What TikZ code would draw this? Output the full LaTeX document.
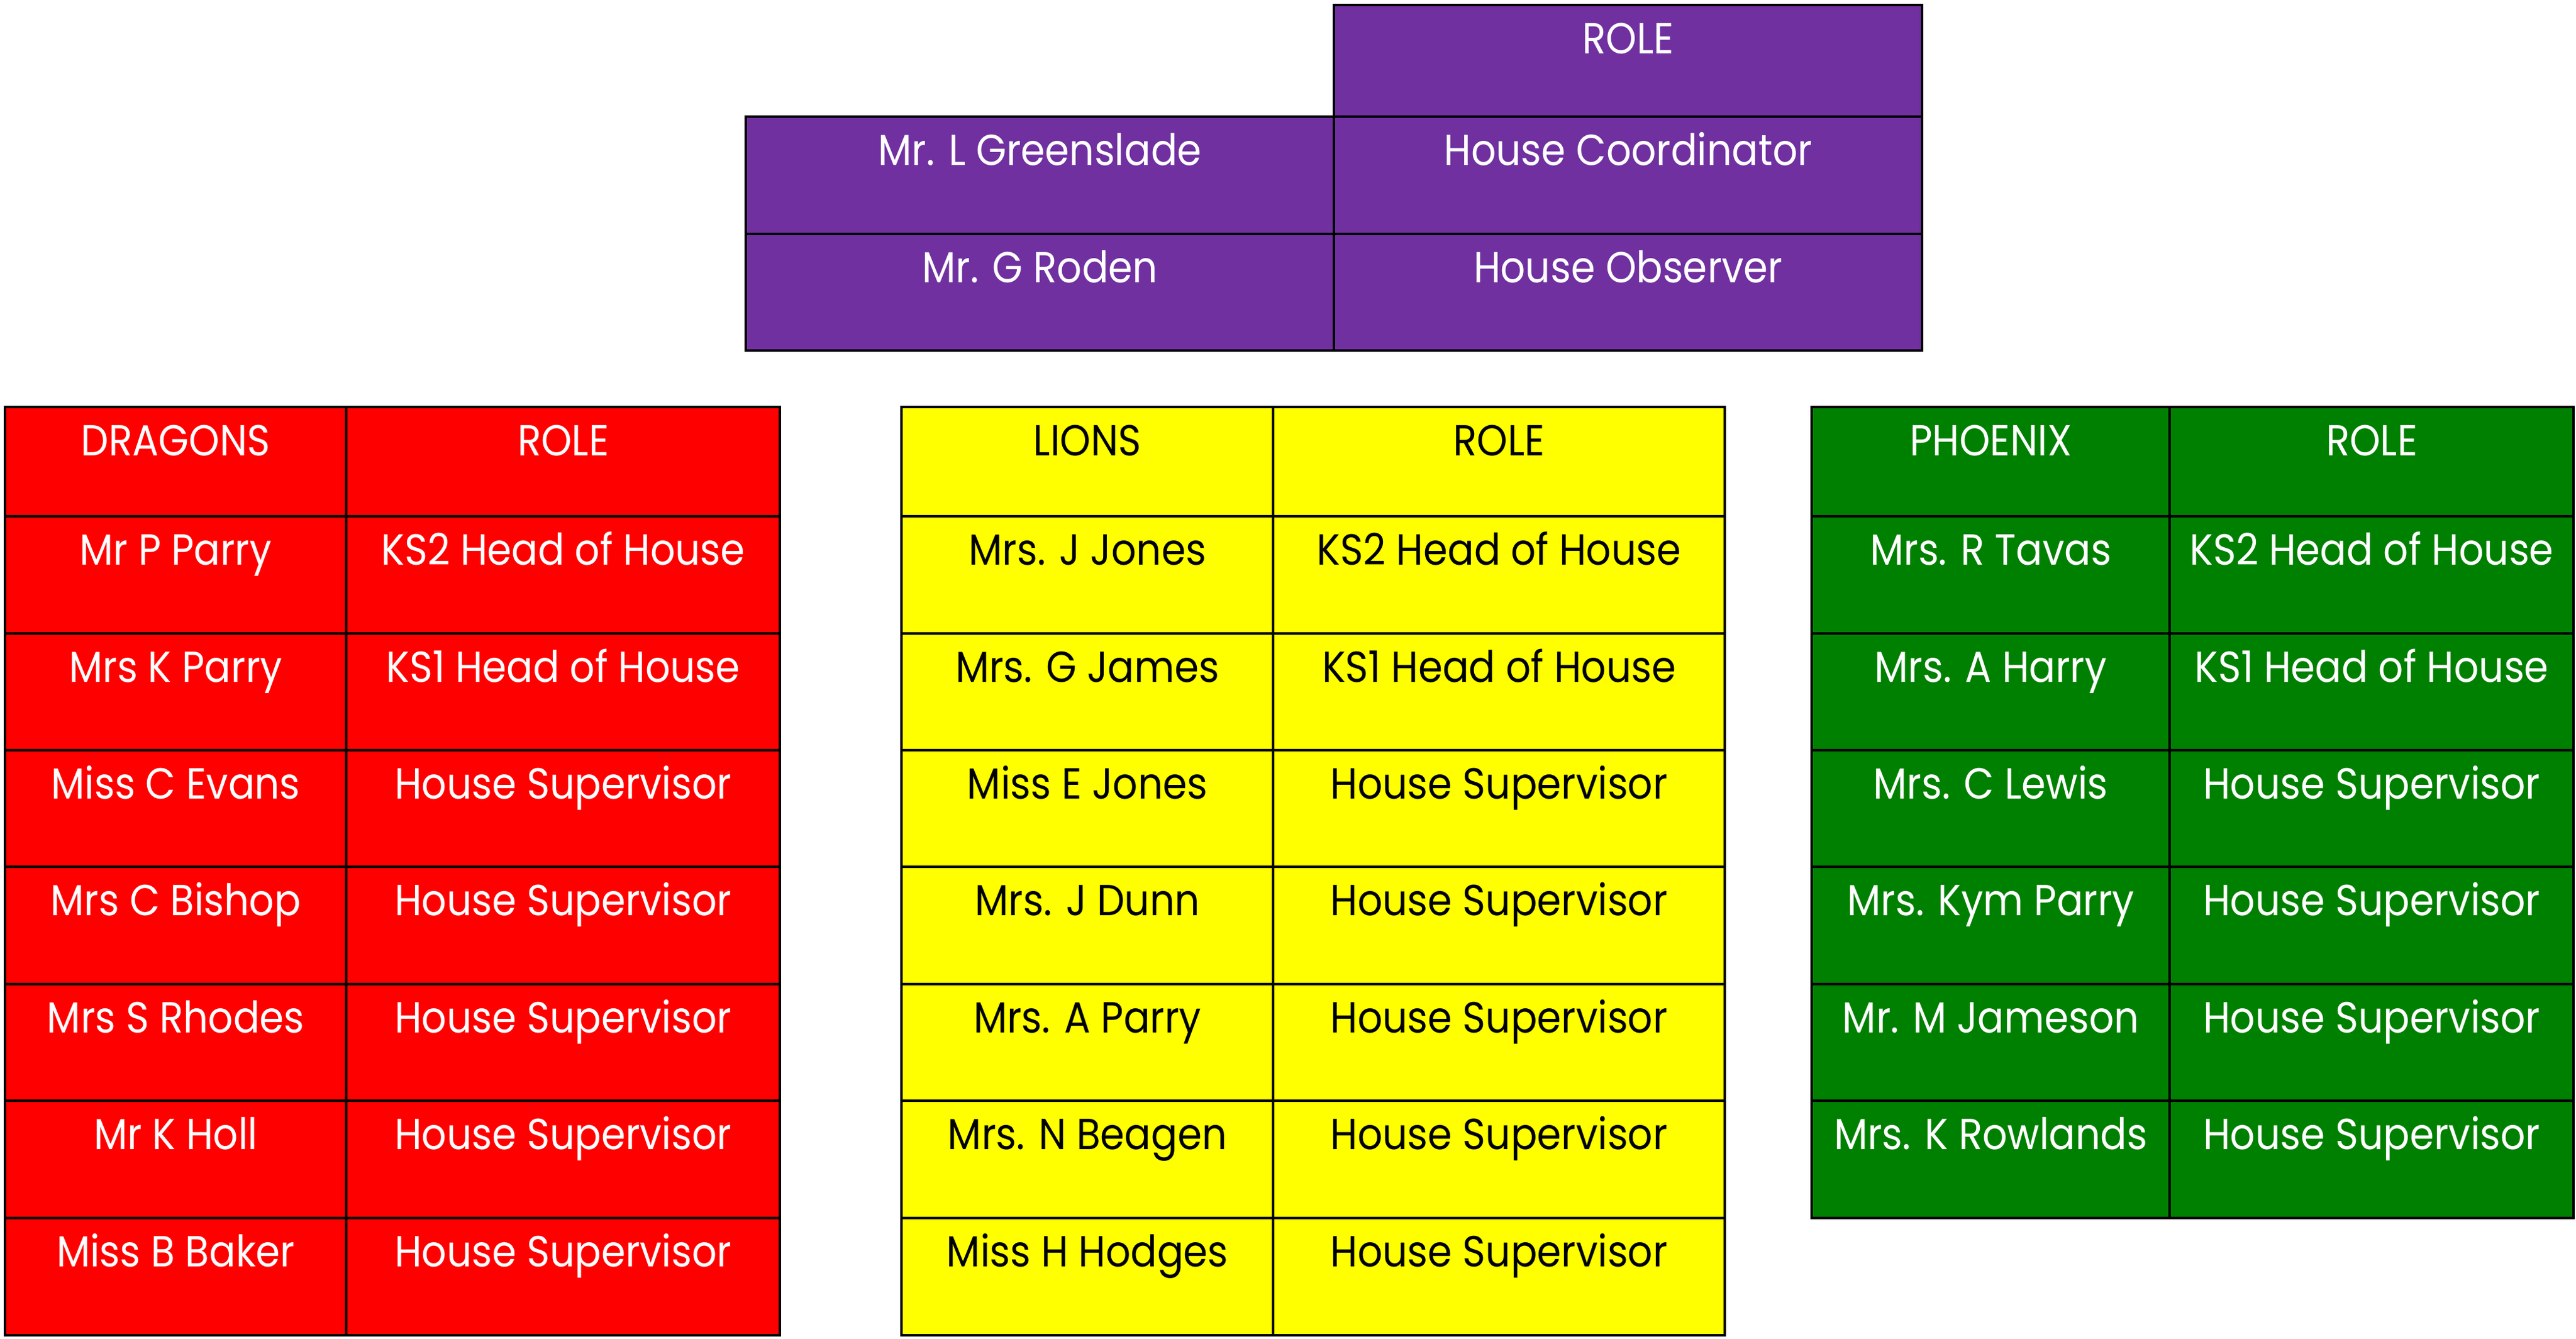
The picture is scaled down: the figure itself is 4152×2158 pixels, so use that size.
\documentclass[tikz,border=0pt]{standalone}
\usepackage{fontspec}
\setmainfont{Poppins}[FakeStretch=0.9]
\definecolor{hpurple}{HTML}{7030A0}
\definecolor{hred}{HTML}{FF0000}
\definecolor{hyellow}{HTML}{FFFF00}
\definecolor{hgreen}{HTML}{008000}
\tikzset{
  cellbox/.style={draw=black, line width=1.1pt, inner sep=0pt, text height=19.5pt,
    anchor=north west, font=\fontsize{17.5}{20}\selectfont},
  purplecell/.style={cellbox, fill=hpurple, text=white},
  redcell/.style={cellbox, fill=hred, text=white},
  yellowcell/.style={cellbox, fill=hyellow, text=black},
  greencell/.style={cellbox, fill=hgreen, text=white},
}
% name, xa, ya, xb, yb, style, text  (pixel units, y downwards)
\newcommand\mycell[7]{%
  \node[#6, minimum width={(#4-#2)*0.25pt}, text depth={(#5-#3-78)*0.25pt}] (#1) at (#2,#3) {#7};}
\begin{document}
\begin{tikzpicture}[x=0.25pt,y=-0.25pt]
\useasboundingbox (0,0) rectangle (4152,2158);
% ---- top purple table
\mycell{pRole}{2148}{6}{3096}{186}{purplecell}{ROLE}
\mycell{pN1}{1200}{186}{2148}{375}{purplecell}{Mr. L Greenslade}
\mycell{pR1}{2148}{186}{3096}{375}{purplecell}{House Coordinator}
\mycell{pN2}{1200}{375}{2148}{563}{purplecell}{Mr. G Roden}
\mycell{pR2}{2148}{375}{3096}{563}{purplecell}{House Observer}
% ---- row boundaries
\def\ya{654}\def\yb{830}\def\yc{1019}\def\yd{1207}\def\ye{1395}\def\yf{1584}\def\yg{1772}\def\yh{1961}\def\yi{2150}
% ---- DRAGONS
\mycell{dH}{6}{\ya}{556}{\yb}{redcell}{DRAGONS}
\mycell{dHR}{556}{\ya}{1255}{\yb}{redcell}{ROLE}
\mycell{dN1}{6}{\yb}{556}{\yc}{redcell}{Mr P Parry}
\mycell{dR1}{556}{\yb}{1255}{\yc}{redcell}{KS2 Head of House}
\mycell{dN2}{6}{\yc}{556}{\yd}{redcell}{Mrs K Parry}
\mycell{dR2}{556}{\yc}{1255}{\yd}{redcell}{KS1 Head of House}
\mycell{dN3}{6}{\yd}{556}{\ye}{redcell}{Miss C Evans}
\mycell{dR3}{556}{\yd}{1255}{\ye}{redcell}{House Supervisor}
\mycell{dN4}{6}{\ye}{556}{\yf}{redcell}{Mrs C Bishop}
\mycell{dR4}{556}{\ye}{1255}{\yf}{redcell}{House Supervisor}
\mycell{dN5}{6}{\yf}{556}{\yg}{redcell}{Mrs S Rhodes}
\mycell{dR5}{556}{\yf}{1255}{\yg}{redcell}{House Supervisor}
\mycell{dN6}{6}{\yg}{556}{\yh}{redcell}{Mr K Holl}
\mycell{dR6}{556}{\yg}{1255}{\yh}{redcell}{House Supervisor}
\mycell{dN7}{6}{\yh}{556}{\yi}{redcell}{Miss B Baker}
\mycell{dR7}{556}{\yh}{1255}{\yi}{redcell}{House Supervisor}
% ---- LIONS
\mycell{lH}{1451}{\ya}{2050}{\yb}{yellowcell}{LIONS}
\mycell{lHR}{2050}{\ya}{2778}{\yb}{yellowcell}{ROLE}
\mycell{lN1}{1451}{\yb}{2050}{\yc}{yellowcell}{Mrs. J Jones}
\mycell{lR1}{2050}{\yb}{2778}{\yc}{yellowcell}{KS2 Head of House}
\mycell{lN2}{1451}{\yc}{2050}{\yd}{yellowcell}{Mrs. G James}
\mycell{lR2}{2050}{\yc}{2778}{\yd}{yellowcell}{KS1 Head of House}
\mycell{lN3}{1451}{\yd}{2050}{\ye}{yellowcell}{Miss E Jones}
\mycell{lR3}{2050}{\yd}{2778}{\ye}{yellowcell}{House Supervisor}
\mycell{lN4}{1451}{\ye}{2050}{\yf}{yellowcell}{Mrs. J Dunn}
\mycell{lR4}{2050}{\ye}{2778}{\yf}{yellowcell}{House Supervisor}
\mycell{lN5}{1451}{\yf}{2050}{\yg}{yellowcell}{Mrs. A Parry}
\mycell{lR5}{2050}{\yf}{2778}{\yg}{yellowcell}{House Supervisor}
\mycell{lN6}{1451}{\yg}{2050}{\yh}{yellowcell}{Mrs. N Beagen}
\mycell{lR6}{2050}{\yg}{2778}{\yh}{yellowcell}{House Supervisor}
\mycell{lN7}{1451}{\yh}{2050}{\yi}{yellowcell}{Miss H Hodges}
\mycell{lR7}{2050}{\yh}{2778}{\yi}{yellowcell}{House Supervisor}
% ---- PHOENIX
\mycell{gH}{2918}{\ya}{3495}{\yb}{greencell}{PHOENIX}
\mycell{gHR}{3495}{\ya}{4146}{\yb}{greencell}{ROLE}
\mycell{gN1}{2918}{\yb}{3495}{\yc}{greencell}{Mrs. R Tavas}
\mycell{gR1}{3495}{\yb}{4146}{\yc}{greencell}{KS2 Head of House}
\mycell{gN2}{2918}{\yc}{3495}{\yd}{greencell}{Mrs. A Harry}
\mycell{gR2}{3495}{\yc}{4146}{\yd}{greencell}{KS1 Head of House}
\mycell{gN3}{2918}{\yd}{3495}{\ye}{greencell}{Mrs. C Lewis}
\mycell{gR3}{3495}{\yd}{4146}{\ye}{greencell}{House Supervisor}
\mycell{gN4}{2918}{\ye}{3495}{\yf}{greencell}{Mrs. Kym Parry}
\mycell{gR4}{3495}{\ye}{4146}{\yf}{greencell}{House Supervisor}
\mycell{gN5}{2918}{\yf}{3495}{\yg}{greencell}{Mr. M Jameson}
\mycell{gR5}{3495}{\yf}{4146}{\yg}{greencell}{House Supervisor}
\mycell{gN6}{2918}{\yg}{3495}{\yh}{greencell}{Mrs. K Rowlands}
\mycell{gR6}{3495}{\yg}{4146}{\yh}{greencell}{House Supervisor}
\end{tikzpicture}
\end{document}
